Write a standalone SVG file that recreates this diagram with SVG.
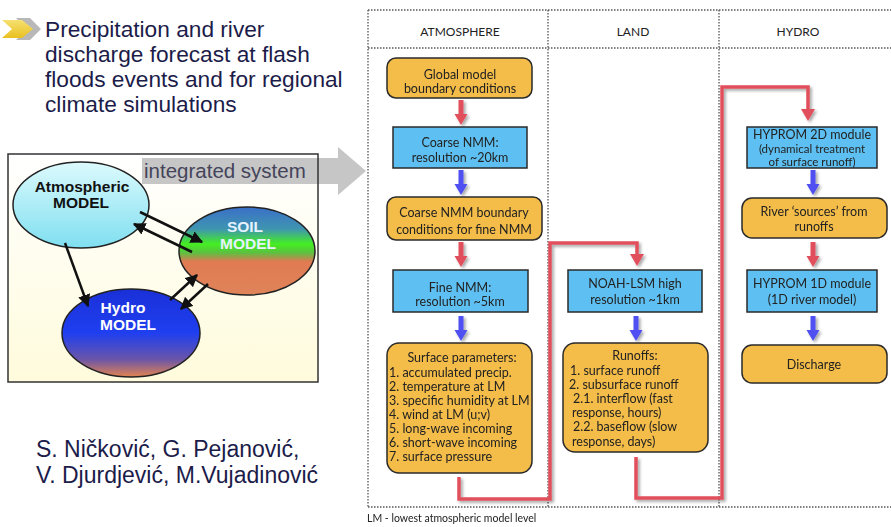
<svg xmlns="http://www.w3.org/2000/svg" width="891" height="527" viewBox="0 0 891 527">
<style>
.title{font-family:"Liberation Sans",Arial,sans-serif;font-size:22.7px;fill:#1c1c4a}
.auth{font-family:"Liberation Sans",Arial,sans-serif;font-size:23px;fill:#1c1c4a}
.ell{font-family:"Liberation Sans",Arial,sans-serif;font-size:15.5px;font-weight:bold;text-anchor:middle}
.hdr{font-family:Lato,"Open Sans",sans-serif;font-size:12px;fill:#222;text-anchor:middle}
.t{font-family:Lato,"Open Sans",sans-serif;font-size:12.5px;fill:#222;text-anchor:middle}
.s{font-family:Lato,"Open Sans",sans-serif;font-size:11.5px;fill:#222;text-anchor:middle}
.l{font-family:Lato,"Open Sans",sans-serif;font-size:12.5px;fill:#222}
.ob{fill:#f4bc48;stroke:#2a2a2a;stroke-width:1.5}
.bb{fill:#5ec0f2;stroke:#2a2a2a;stroke-width:1.5}
.grid{stroke:#555;stroke-width:1.3;stroke-dasharray:1.5 1.5;fill:none}
.red{fill:#e2505c}
.blue{fill:#4f4ff2}
.conn{fill:none;stroke:#e2505c;stroke-width:3.5}
.bk{stroke:#111;stroke-width:2.5;fill:none;marker-end:url(#ah)}
</style>
<defs>
<filter id="sh" x="-50%" y="-50%" width="200%" height="200%">
<feDropShadow dx="2" dy="2" stdDeviation="1.5" flood-color="#000" flood-opacity="0.35"/>
</filter>
<path id="arr" d="M-2.5,0 H2.5 V14 H6.5 L0,25 L-6.5,14 H-2.5 Z"/>
<marker id="ah" viewBox="0 0 10 10" refX="9" refY="5" markerWidth="5" markerHeight="5" orient="auto" markerUnits="strokeWidth">
<path d="M0,0 L10,5 L0,10 Z" fill="#111"/>
</marker>
<linearGradient id="gPanel" x1="0" y1="0" x2="0" y2="1">
<stop offset="0" stop-color="#ffffff"/><stop offset="1" stop-color="#fffbdc"/>
</linearGradient>
<linearGradient id="gAtm" x1="0" y1="0" x2="0" y2="1">
<stop offset="0" stop-color="#dcfafd"/><stop offset="1" stop-color="#7fdff0"/>
</linearGradient>
<linearGradient id="gSoil" x1="0" y1="0" x2="0" y2="1">
<stop offset="0" stop-color="#3a6fc8"/><stop offset="0.25" stop-color="#3f95b0"/><stop offset="0.42" stop-color="#44ee22"/><stop offset="0.52" stop-color="#5cc040"/><stop offset="0.62" stop-color="#e07a52"/><stop offset="1" stop-color="#e0845a"/>
</linearGradient>
<linearGradient id="gHyd" x1="0" y1="0" x2="0" y2="1">
<stop offset="0" stop-color="#1a30d8"/><stop offset="0.5" stop-color="#1f3ff0"/><stop offset="0.8" stop-color="#6a55a8"/><stop offset="1" stop-color="#e48450"/>
</linearGradient>
<linearGradient id="gChev" x1="0" y1="0" x2="0" y2="1">
<stop offset="0" stop-color="#f6e070"/><stop offset="1" stop-color="#e8c020"/>
</linearGradient>
</defs>
<rect width="891" height="527" fill="#ffffff"/>

<!-- title -->
<g id="title">
<polygon points="16,18 30,18 41,29 30,40 16,40 27,29" fill="#b8b8b8"/>
<polygon points="2,20 22,20 33,29 22,38 2,38 12,29" fill="url(#gChev)"/>
<text class="title" x="45" y="37">Precipitation and river</text>
<text class="title" x="45" y="62">discharge forecast at flash</text>
<text class="title" x="45" y="87">floods events and for regional</text>
<text class="title" x="45" y="112">climate simulations</text>
</g>

<!-- left panel -->
<g id="panel">
<rect x="8" y="154" width="310" height="228" fill="url(#gPanel)"/>
</g>
<g id="integrated">
<polygon points="142,158 338,158 338,147 366,171 338,195 338,184 142,184" fill="#c6c6c6"/>
<text x="144" y="178" font-family="Liberation Sans,Arial,sans-serif" font-size="20.5" fill="#44445a">integrated system</text>
</g>
<rect x="8" y="154" width="310" height="228" fill="none" stroke="#333" stroke-width="1.5"/>

<g id="atm">
<ellipse cx="81" cy="205" rx="68" ry="43" fill="url(#gAtm)" stroke="#222" stroke-width="1.5"/>
<text class="ell" x="82" y="192" fill="#111">Atmospheric</text>
<text class="ell" x="81" y="208" fill="#111">MODEL</text>
</g>
<g id="soil">
<ellipse cx="247" cy="251" rx="68" ry="44" fill="url(#gSoil)" stroke="#222" stroke-width="1.5"/>
<text class="ell" x="245" y="232" fill="#e6f2ff">SOIL</text>
<text class="ell" x="248" y="248.5" fill="#e6f2ff">MODEL</text>
</g>
<g id="hydro">
<ellipse cx="131" cy="333" rx="69" ry="44" fill="url(#gHyd)" stroke="#222" stroke-width="1.5"/>
<text class="ell" x="123" y="313" fill="#ffffff">Hydro</text>
<text class="ell" x="128" y="330" fill="#ffffff">MODEL</text>
</g>
<g id="panel-connectors">
<line class="bk" x1="140" y1="212" x2="202" y2="242"/>
<line class="bk" x1="192" y1="252" x2="134" y2="224"/>
<line class="bk" x1="65" y1="243" x2="88" y2="306"/>
<line class="bk" x1="170" y1="300" x2="197" y2="275"/>
<line class="bk" x1="208" y1="284" x2="181" y2="309"/>
</g>

<g id="authors">
<text class="auth" x="36" y="457">S. Ničković, G. Pejanović,</text>
<text class="auth" x="36" y="483">V. Djurdjević, M.Vujadinović</text>
</g>

<!-- frame -->
<g id="frame">
<line class="grid" x1="368" y1="10" x2="891" y2="10"/>
<line class="grid" x1="368" y1="48" x2="891" y2="48"/>
<line class="grid" x1="368" y1="507" x2="891" y2="507"/>
<line class="grid" x1="368" y1="10" x2="368" y2="507"/>
<line class="grid" x1="548" y1="10" x2="548" y2="507"/>
<line class="grid" x1="719" y1="10" x2="719" y2="507"/>
<text class="hdr" x="460" y="36">ATMOSPHERE</text>
<text class="hdr" x="633" y="36">LAND</text>
<text class="hdr" x="798" y="36">HYDRO</text>
</g>

<!-- connectors -->
<g id="connectors" filter="url(#sh)">
<use href="#arr" x="461" y="100" class="red"/>
<use href="#arr" x="461" y="170" class="blue"/>
<use href="#arr" x="461" y="242" class="red"/>
<use href="#arr" x="461" y="316" class="blue"/>
<use href="#arr" x="636" y="316" class="blue"/>
<use href="#arr" x="813" y="170" class="blue"/>
<use href="#arr" x="813" y="242" class="red"/>
<use href="#arr" x="813" y="316" class="blue"/>
<path class="conn" d="M459,477 V499 H550 V243 H637 V256"/>
<polygon class="red" points="630,254 644,254 637,266"/>
<path class="conn" d="M636,457 V498 H722 V87 H808 V111"/>
<polygon class="red" points="801,109 815,109 808,121"/>
</g>

<!-- atmosphere nodes -->
<g id="global">
<rect class="ob" x="387" y="58" width="145" height="40" rx="9"/>
<text class="t" x="460" y="78.5">Global model</text>
<text class="t" x="460" y="93">boundary conditions</text>
</g>
<g id="coarse">
<rect class="bb" x="393" y="127" width="134" height="41"/>
<text class="t" x="460" y="147">Coarse NMM:</text>
<text class="t" x="460" y="162">resolution ~20km</text>
</g>
<g id="coarsebc">
<rect class="ob" x="387" y="197" width="155" height="43" rx="9"/>
<text class="t" x="464" y="217">Coarse NMM boundary</text>
<text class="t" x="464" y="234">conditions for fine NMM</text>
</g>
<g id="fine">
<rect class="bb" x="393" y="270" width="135" height="42"/>
<text class="t" x="460" y="291.5">Fine NMM:</text>
<text class="t" x="460" y="306">resolution ~5km</text>
</g>
<g id="surface">
<rect class="ob" x="387" y="343" width="145" height="130" rx="12"/>
<text class="t" x="462" y="362">Surface parameters:</text>
<text class="l" x="389" y="377">1. accumulated precip.</text>
<text class="l" x="389" y="391">2. temperature at LM</text>
<text class="l" x="389" y="405">3. specific humidity at LM</text>
<text class="l" x="389" y="419">4. wind at LM (u;v)</text>
<text class="l" x="389" y="433">5. long-wave incoming</text>
<text class="l" x="389" y="447">6. short-wave incoming</text>
<text class="l" x="389" y="461">7. surface pressure</text>
</g>

<!-- land nodes -->
<g id="noah">
<rect class="bb" x="568" y="270" width="134" height="42"/>
<text class="t" x="635" y="288">NOAH-LSM high</text>
<text class="t" x="635" y="304">resolution ~1km</text>
</g>
<g id="runoffs">
<rect class="ob" x="563" y="343" width="145" height="109" rx="12"/>
<text class="t" x="635" y="360">Runoffs:</text>
<text class="l" x="570" y="374.5">1. surface runoff</text>
<text class="l" x="569" y="388.7">2. subsurface runoff</text>
<text class="l" x="573" y="402.9">2.1. interflow (fast</text>
<text class="l" x="572" y="417.1">response, hours)</text>
<text class="l" x="573" y="431.3">2.2. baseflow (slow</text>
<text class="l" x="572" y="445.5">response, days)</text>
</g>

<!-- hydro nodes -->
<g id="hyprom2d">
<rect class="bb" x="747" y="127" width="130" height="41"/>
<text class="t" x="812" y="139">HYPROM 2D module</text>
<text class="s" x="812" y="152.5">(dynamical treatment</text>
<text class="s" x="812" y="165.5">of surface runoff)</text>
</g>
<g id="river">
<rect class="ob" x="742" y="198" width="145" height="40" rx="10"/>
<text class="t" x="814" y="216">River ‘sources’ from</text>
<text class="t" x="814" y="231">runoffs</text>
</g>
<g id="hyprom1d">
<rect class="bb" x="747" y="270" width="130" height="42"/>
<text class="t" x="812" y="288">HYPROM 1D module</text>
<text class="t" x="812" y="304">(1D river model)</text>
</g>
<g id="discharge">
<rect class="ob" x="742" y="345" width="145" height="38" rx="10"/>
<text class="t" x="814" y="369">Discharge</text>
</g>

<text x="367" y="522" font-family="Lato,'Open Sans',sans-serif" font-size="10.5" fill="#222">LM - lowest atmospheric model level</text>
</svg>
